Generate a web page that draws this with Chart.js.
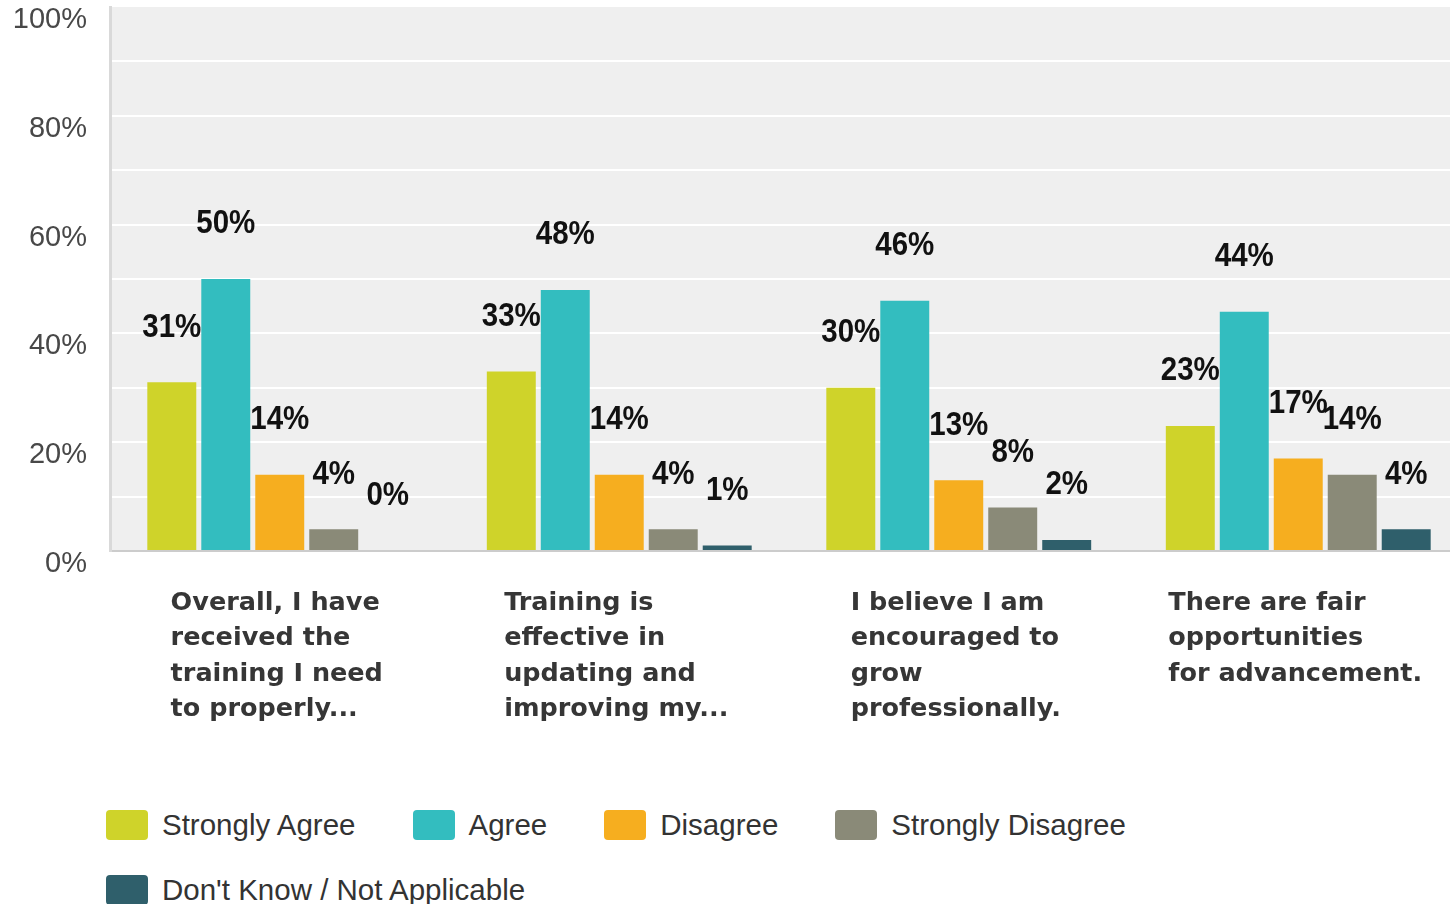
<!DOCTYPE html>
<html lang="en">
<head>
    <meta charset="UTF-8">
    <title>Training &amp; Development Survey</title>
    <script src="https://cdn.jsdelivr.net/npm/chart.js"></script>
    <style>
        body {
            margin: 0;
            background: #fff;
            width: 1450px;
            height: 904px;
            overflow: hidden;
            position: relative;
            font-family: 'Liberation Sans', Arial, sans-serif;
        }
        #chart-wrap {
            position: absolute;
            left: 0;
            top: 0;
            width: 1470px;
            height: 760px;
        }
        #legend {
            position: absolute;
            left: 106px;
            top: 810px;
            width: 1340px;
            display: flex;
            flex-wrap: wrap;
            column-gap: 57px;
            row-gap: 35px;
        }
        .legend-item {
            display: flex;
            align-items: center;
            height: 30px;
            font-size: 29.5px;
            color: #333;
            white-space: nowrap;
        }
        .legend-box {
            width: 42px;
            height: 30px;
            border-radius: 4px;
            margin-right: 14px;
        }
    </style>
</head>
<body>
    <div id="chart-wrap">
        <canvas id="survey" width="1470" height="760"></canvas>
    </div>
    <div id="legend"></div>

    <script>
        // question text, one array of wrapped lines per question
        const questions = [
            ['Overall, I have', 'received the', 'training I need', 'to properly...'],
            ['Training is', 'effective in', 'updating and', 'improving my...'],
            ['I believe I am', 'encouraged to', 'grow', 'professionally.'],
            ['There are fair', 'opportunities', 'for advancement.']
        ];

        const seriesNames = ['Strongly Agree', 'Agree', 'Disagree', 'Strongly Disagree', 'Don\'t Know / Not Applicable'];
        const seriesColors = ['#cfd32a', '#33bdbf', '#f6ae1f', '#8a8a78', '#2f5f6b'];

        // percentages per answer, in question order
        const stronglyAgree = [31, 33, 30, 23];
        const agree = [50, 48, 46, 44];
        const disagree = [14, 14, 13, 17];
        const stronglyDisagree = [4, 4, 8, 14];
        const dontKnow = [0, 1, 2, 4];

        const yTicks = [0, 20, 40, 60, 80, 100];

        const seriesValues = [stronglyAgree, agree, disagree, stronglyDisagree, dontKnow];

        const plotBackground = {
            id: 'plotBackground',
            beforeDraw(chart) {
                const { ctx, chartArea: a } = chart;
                ctx.save();
                ctx.fillStyle = '#efefef';
                ctx.fillRect(a.left, a.top, a.right - a.left, a.bottom - a.top);
                ctx.restore();
            }
        };

        // percentage above each bar
        const valueLabels = {
            id: 'valueLabels',
            afterDatasetsDraw(chart) {
                const ctx = chart.ctx;
                ctx.save();
                ctx.fillStyle = '#111';
                ctx.font = 'bold 29.5px "Liberation Sans", Arial, sans-serif';
                ctx.textAlign = 'center';
                ctx.textBaseline = 'middle';
                chart.data.datasets.forEach((ds, di) => {
                    chart.getDatasetMeta(di).data.forEach((bar, i) => {
                        ctx.save();
                        ctx.translate(bar.x, bar.y - 55);
                        ctx.scale(1, 1.15);
                        ctx.fillText(ds.data[i] + '%', 0, 0);
                        ctx.restore();
                    });
                });
                ctx.restore();
            }
        };

        // wrapped question text under each group, left aligned inside a centred block
        const questionLabels = {
            id: 'questionLabels',
            afterDraw(chart) {
                const ctx = chart.ctx;
                const x = chart.scales.x;
                ctx.save();
                ctx.fillStyle = '#363636';
                ctx.font = 'bold 25.5px "DejaVu Sans", Verdana, sans-serif';
                ctx.textAlign = 'left';
                ctx.textBaseline = 'middle';
                questions.forEach((lines, i) => {
                    const widest = Math.max(...lines.map(l => ctx.measureText(l).width));
                    const left = x.getPixelForValue(i) - widest / 2 - 3;
                    lines.forEach((line, j) => {
                        ctx.fillText(line, left, chart.chartArea.bottom + 52 + j * 35.5);
                    });
                });
                ctx.restore();
            }
        };

        new Chart(document.getElementById('survey'), {
            type: 'bar',
            data: {
                labels: questions.map(q => q.join(' ')),
                datasets: seriesNames.map((name, i) => ({
                    label: name,
                    data: seriesValues[i],
                    backgroundColor: seriesColors[i],
                    borderWidth: 0,
                    categoryPercentage: 0.795,
                    barPercentage: 0.907
                }))
            },
            options: {
                responsive: false,
                devicePixelRatio: 1,
                animation: false,
                layout: { padding: { top: 7, right: 2, bottom: 209, left: 0 } },
                plugins: {
                    legend: { display: false },
                    tooltip: { enabled: false }
                },
                scales: {
                    x: {
                        grid: { display: false },
                        ticks: { display: false },
                        border: { color: '#cccccc', width: 2 },
                        afterFit(scale) { scale.height = 0; }
                    },
                    y: {
                        min: 0,
                        max: 100,
                        afterFit(scale) {
                            scale.width = 110;
                            scale.paddingTop = 0;
                            scale.paddingBottom = 0;
                        },
                        ticks: {
                            stepSize: 10,
                            padding: 23,
                            labelOffset: 13,
                            color: '#484848',
                            font: { family: '"Liberation Sans", Arial, sans-serif', size: 29 },
                            callback: v => yTicks.includes(v) ? v + '%' : ''
                        },
                        grid: {
                            drawTicks: false,
                            lineWidth: 2,
                            color: c => (c.tick.value === 0 || c.tick.value === 100) ? 'rgba(0,0,0,0)' : '#ffffff'
                        },
                        border: { color: '#d9d9d9', width: 3 }
                    }
                }
            },
            plugins: [plotBackground, valueLabels, questionLabels]
        });

        // legend built from the same series lists
        const legend = document.getElementById('legend');
        seriesNames.forEach((name, i) => {
            const item = document.createElement('div');
            item.className = 'legend-item';
            const box = document.createElement('span');
            box.className = 'legend-box';
            box.style.background = seriesColors[i];
            item.appendChild(box);
            item.appendChild(document.createTextNode(name));
            legend.appendChild(item);
        });
    </script>
</body>
</html>
